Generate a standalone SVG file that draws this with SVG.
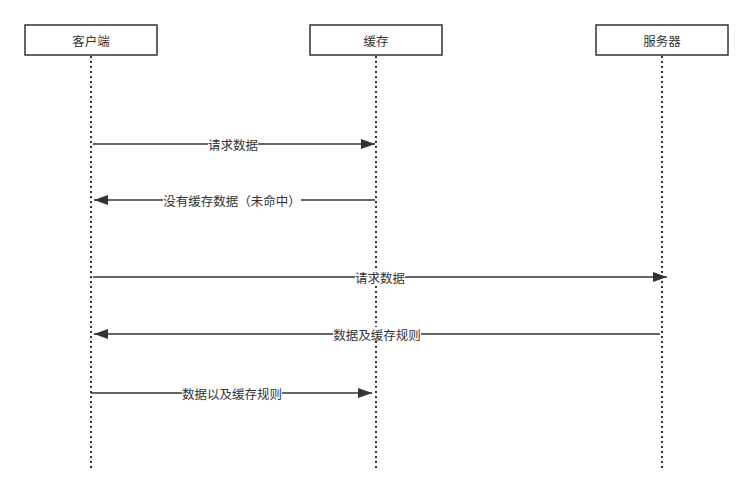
<svg xmlns="http://www.w3.org/2000/svg" width="753" height="499" viewBox="0 0 753 499">
<defs>
<style>
.box{fill:#fff;stroke:#333;stroke-width:1.5}
.life{stroke:#333;stroke-width:2;stroke-dasharray:2 3;fill:none}
.msg{stroke:#333;stroke-width:1.5;fill:none}
.t{font-family:"Noto Sans CJK SC","Liberation Sans",sans-serif;font-size:12.5px;fill:#333;text-anchor:middle;dominant-baseline:central}
.bg{fill:#fff}
</style>
<marker id="ah" viewBox="0 0 14 10" refX="14" refY="5" markerWidth="14" markerHeight="10" markerUnits="userSpaceOnUse" orient="auto">
<path d="M0,0 L14,5 L0,10 Z" fill="#333"/>
</marker>
</defs>
<rect width="753" height="499" fill="#fff"/>
<g id="lifelines">
<line class="life" x1="91" y1="56" x2="91" y2="471"/>
<line class="life" x1="376" y1="56" x2="376" y2="471"/>
<line class="life" x1="662" y1="56" x2="662" y2="471"/>
</g>
<g id="client"><rect class="box" x="25" y="25" width="132" height="30"/><text class="t" x="91" y="40">客户端</text></g>
<g id="cache"><rect class="box" x="310" y="25" width="132" height="30"/><text class="t" x="376" y="40">缓存</text></g>
<g id="server"><rect class="box" x="596" y="25" width="132" height="30"/><text class="t" x="662" y="40">服务器</text></g>
<g id="connectors">
<line class="msg" x1="93" y1="144" x2="375" y2="144" marker-end="url(#ah)"/>
<rect class="bg" x="208" y="137" width="50" height="14"/>
<text class="t" x="233" y="144">请求数据</text>
<line class="msg" x1="375" y1="200" x2="94" y2="200" marker-end="url(#ah)"/>
<rect class="bg" x="163" y="193" width="138" height="14"/>
<text class="t" x="232" y="200">没有缓存数据（未命中）</text>
<line class="msg" x1="93" y1="277" x2="667" y2="277" marker-end="url(#ah)"/>
<rect class="bg" x="355" y="270" width="50" height="14"/>
<text class="t" x="380" y="277">请求数据</text>
<line class="msg" x1="660" y1="334" x2="94" y2="334" marker-end="url(#ah)"/>
<rect class="bg" x="333" y="327" width="88" height="14"/>
<text class="t" x="377" y="334">数据及缓存规则</text>
<line class="msg" x1="91" y1="393" x2="372" y2="393" marker-end="url(#ah)"/>
<rect class="bg" x="182" y="386" width="100" height="14"/>
<text class="t" x="232" y="393">数据以及缓存规则</text>
</g>
</svg>
